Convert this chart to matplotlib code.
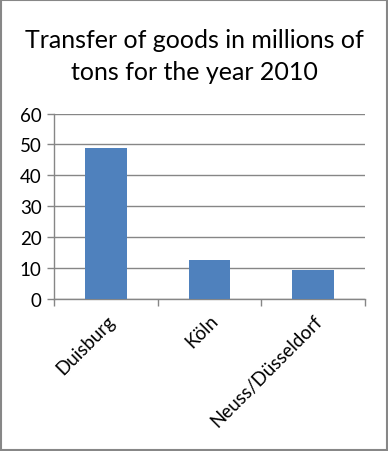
import matplotlib.pyplot as plt
from matplotlib.patches import Rectangle

categories = ["Duisburg", "Köln", "Neuss/Düsseldorf"]
values = [49.0, 12.6, 9.4]
y_ticks = [0, 10, 20, 30, 40, 50, 60]

BAR_COLOR = "#4f81bd"
GRID_COLOR = "#868686"
FONT = ["Lato", "DejaVu Sans"]


def main() -> None:
    plt.rcParams["font.family"] = FONT
    fig = plt.figure(figsize=(3.88, 4.52), dpi=100)
    ax = fig.add_axes([54 / 388, 1 - 300 / 452, (365 - 54) / 388, (300 - 114.5) / 452])

    positions = list(range(len(categories)))
    ax.bar(positions, values, width=0.4, color=BAR_COLOR, zorder=3)

    ax.set_xlim(-0.5, len(categories) - 0.5)
    ax.set_ylim(0, 60)
    ax.set_yticks(y_ticks)
    ax.yaxis.grid(True, color=GRID_COLOR, linewidth=1, zorder=0)

    # category boundary ticks, labels at centres
    ax.set_xticks([p - 0.5 for p in positions] + [len(categories) - 0.5])
    ax.set_xticklabels([])
    ax.set_xticks(positions, minor=True)
    ax.set_xticklabels(categories, minor=True, rotation=45, ha="right",
                       rotation_mode="anchor", fontsize=13.5)
    ax.tick_params(axis="x", which="minor", length=0, pad=9)
    ax.tick_params(axis="x", which="major", length=5, color=GRID_COLOR, width=1)
    ax.tick_params(axis="y", length=5, color=GRID_COLOR, width=1, labelsize=13.5, pad=4)

    for side in ("top", "right"):
        ax.spines[side].set_visible(False)
    for side in ("left", "bottom"):
        ax.spines[side].set_color(GRID_COLOR)
        ax.spines[side].set_linewidth(1)

    fig.text(0.5, 1 - 40 / 452, "Transfer of goods in millions of", ha="center",
             va="center", fontsize=18)
    fig.text(0.5, 1 - 73 / 452, "tons for the year 2010", ha="center",
             va="center", fontsize=18)

    fig.patches.append(Rectangle((0.003, 0.003), 0.994, 0.994, transform=fig.transFigure,
                                 fill=False, edgecolor="#878787", linewidth=1.5))

    fig.savefig("out.png", dpi=100)


if __name__ == "__main__":
    main()
